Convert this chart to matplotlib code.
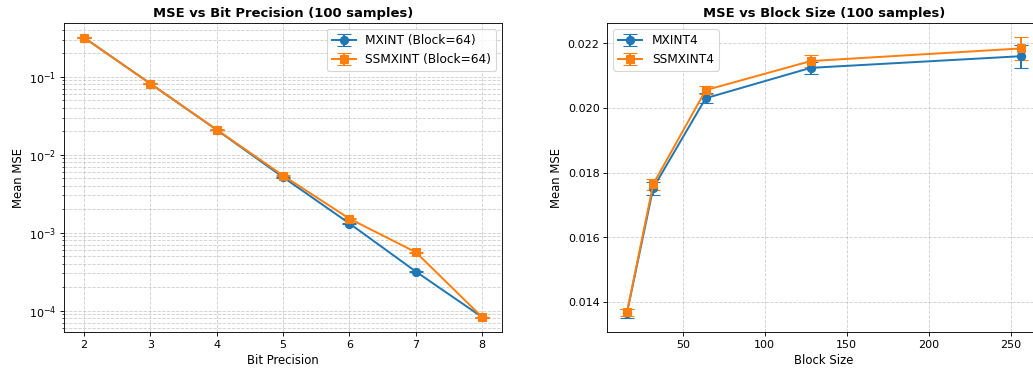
import numpy as np
import matplotlib
matplotlib.use('Agg')
import matplotlib.pyplot as plt

# bit precision sweep (block = 64)
bits = [2, 3, 4, 5, 6, 7, 8]
mxint_bits = [0.32, 0.082, 0.0209, 0.00515, 0.00131, 0.000316, 0.000082]
mxint_bits_err = [0.004, 0.0010, 0.0002, 0.00005, 0.00002, 0.000006, 0.000001]
ssmxint_bits = [0.32, 0.082, 0.0210, 0.0054, 0.00151, 0.00056, 0.000082]
ssmxint_bits_err = [0.004, 0.0010, 0.0002, 0.00006, 0.00002, 0.00001, 0.000001]

# block size sweep (4-bit)
blocks = [16, 32, 64, 128, 256]
mxint4 = [0.01365, 0.01752, 0.02030, 0.02124, 0.02160]
mxint4_err = [0.00014, 0.00020, 0.00015, 0.00018, 0.00035]
ssmxint4 = [0.01367, 0.01764, 0.02055, 0.02145, 0.02184]
ssmxint4_err = [0.00011, 0.00017, 0.00013, 0.00019, 0.00035]

DPI = 79
plt.rcParams['xtick.labelsize'] = 10.2
plt.rcParams['ytick.labelsize'] = 10.2
plt.rcParams['axes.labelsize'] = 10.6
plt.rcParams['legend.fontsize'] = 11
plt.rcParams['lines.linewidth'] = 1.8

fig = plt.figure(figsize=(1033.4 / DPI, 372.4 / DPI), dpi=DPI)
ax1 = fig.add_axes([64 / 1033, 40.3 / 372, 438 / 1033, 308.2 / 372])
ax2 = fig.add_axes([607 / 1033, 40.3 / 372, 433 / 1033, 308.2 / 372])

style = dict(capsize=6, markersize=7.5)

# left: MSE vs bits
ax1.errorbar(bits, mxint_bits, yerr=mxint_bits_err, marker='o',
             label='MXINT (Block=64)', **style)
ax1.errorbar(bits, ssmxint_bits, yerr=ssmxint_bits_err, marker='s',
             label='SSMXINT (Block=64)', **style)
ax1.set_yscale('log')
ax1.set_xlabel('Bit Precision')
ax1.set_ylabel('Mean MSE')
ax1.set_title('MSE vs Bit Precision (100 samples)', fontsize=12, fontweight='bold')
ax1.grid(True, which='both', linestyle='--', alpha=0.6)
ax1.legend(loc='upper right')

# right: MSE vs block size
ax2.errorbar(blocks, mxint4, yerr=mxint4_err, marker='o', label='MXINT4', **style)
ax2.errorbar(blocks, ssmxint4, yerr=ssmxint4_err, marker='s', label='SSMXINT4', **style)
ax2.set_xlabel('Block Size')
ax2.set_ylabel('Mean MSE')
ax2.set_title('MSE vs Block Size (100 samples)', fontsize=12, fontweight='bold')
ax2.grid(True, linestyle='--', alpha=0.6)
ax2.legend(loc='upper left')

fig.savefig('out.png', dpi=DPI)
